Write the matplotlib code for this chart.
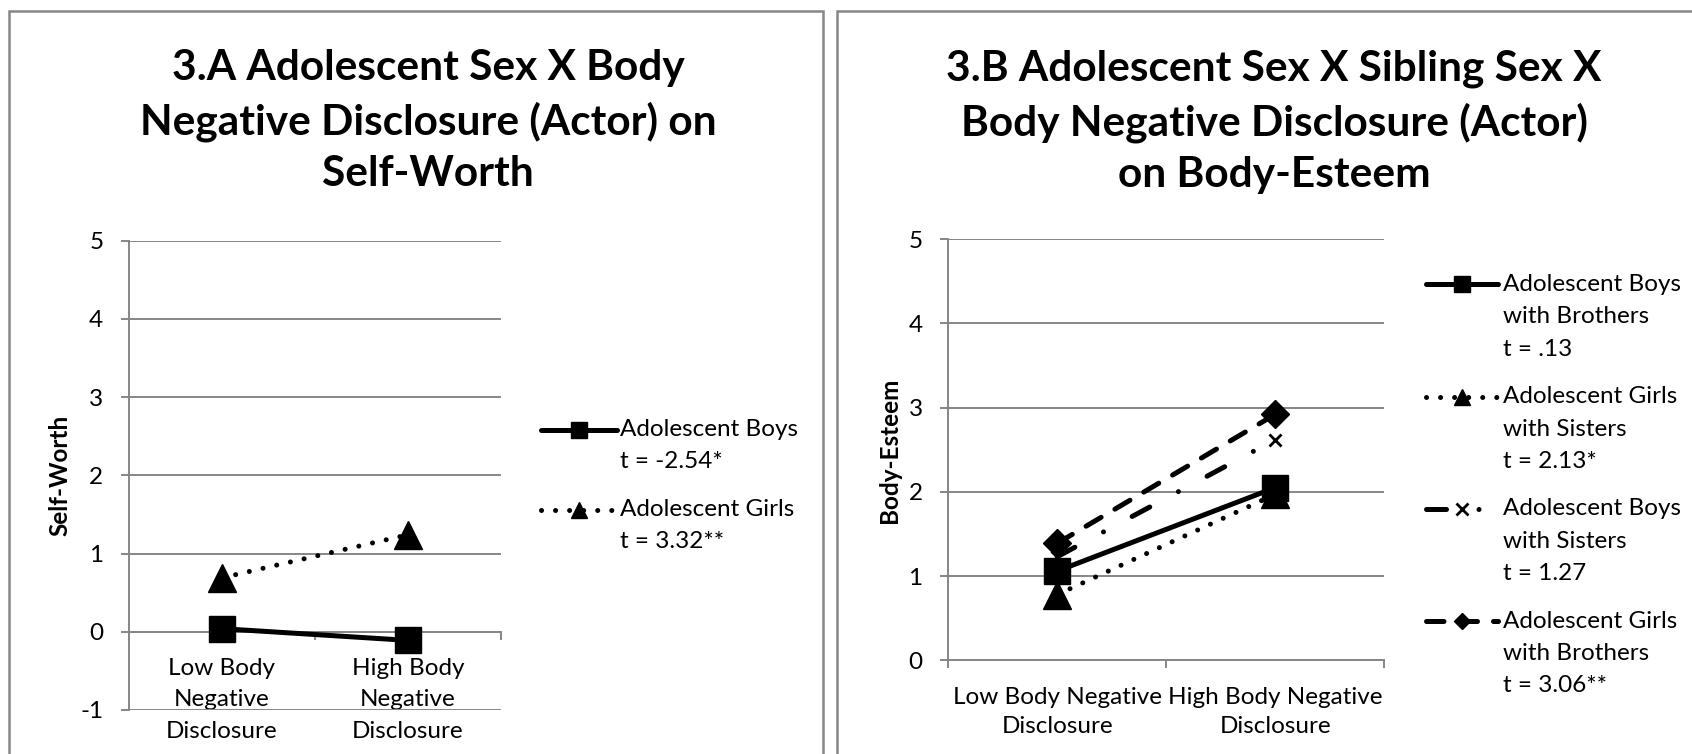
import matplotlib.pyplot as plt
from matplotlib.lines import Line2D
from matplotlib.patches import Rectangle

W, H, DPI = 1692, 754, 100

# ---- data ----
left_title = "3.A Adolescent Sex X Body\nNegative Disclosure (Actor) on\nSelf-Worth"
right_title = "3.B Adolescent Sex X Sibling Sex X\nBody Negative Disclosure (Actor)\non Body-Esteem"

left_categories = ["Low Body\nNegative\nDisclosure", "High Body\nNegative\nDisclosure"]
right_categories = ["Low Body Negative\nDisclosure", "High Body Negative\nDisclosure"]

left_boys = [0.04, -0.11]
left_girls = [0.69, 1.24]

right_boys_brothers = [1.06, 2.05]
right_girls_sisters = [0.78, 1.97]
right_boys_sisters = [1.23, 2.62]
right_girls_brothers = [1.39, 2.92]

left_labels = ["Adolescent Boys\nt = -2.54*", "Adolescent Girls\nt = 3.32**"]
right_labels = ["Adolescent Boys\nwith Brothers\nt = .13",
                "Adolescent Girls\nwith Sisters\nt = 2.13*",
                "Adolescent Boys\nwith Sisters\nt = 1.27",
                "Adolescent Girls\nwith Brothers\nt = 3.06**"]

GRID = "#868686"
FS = 17.5
LW = 3.6

plt.rcParams['font.family'] = ['Lato', 'DejaVu Sans']
plt.rcParams['axes.unicode_minus'] = False

STYLES = {
    "solid_sq": dict(color="black", lw=LW, ls="-", marker="s", ms=19, solid_capstyle="round"),
    "dot_tri": dict(color="black", lw=LW, ls=(0, (0.01, 2.8)), dash_capstyle="round",
                    marker="^", ms=20),
    "dashdot_x": dict(color="black", lw=LW, ls=(0, (4, 6.5, 0.01, 6.5)), dash_capstyle="round",
                      marker="x", ms=9, mew=2),
    "dash_dia": dict(color="black", lw=LW, ls=(0, (3.5, 3.2)), dash_capstyle="round",
                     marker="D", ms=14.5),
}
# smaller markers in the legend samples
LEGEND_MS = {"solid_sq": 11.5, "dot_tri": 11, "dashdot_x": 9, "dash_dia": 8.5}


def fx(px):
    return px / W


def fy(py):
    return 1 - py / H


fig = plt.figure(figsize=(W / DPI, H / DPI), dpi=DPI)

# panel frames
for x0, x1 in [(9, 823), (837, 1705)]:
    fig.patches.append(Rectangle((fx(x0), fy(765)), fx(x1) - fx(x0), fy(11) - fy(765),
                                 transform=fig.transFigure, fill=False, ec="#878787", lw=1.8))


def style_axes(ax, ymin, ymax, cats, label_pad, spacing):
    ax.set_xlim(0.5, 2.5)
    ax.set_ylim(ymin, ymax)
    ax.set_yticks(range(ymin, ymax + 1))
    ax.yaxis.grid(True, color=GRID, lw=1.4)
    ax.set_axisbelow(True)
    ax.spines["top"].set_visible(False)
    ax.spines["right"].set_visible(False)
    ax.spines["left"].set_color(GRID)
    ax.spines["left"].set_linewidth(1.4)
    ax.spines["bottom"].set_color(GRID)
    ax.spines["bottom"].set_linewidth(1.4)
    ax.spines["bottom"].set_position(("data", 0))
    ax.set_xticks([0.5, 1.5, 2.5])
    ax.set_xticklabels([])
    ax.set_xticks([1, 2], minor=True)
    ax.set_xticklabels(cats, minor=True, fontsize=FS, linespacing=spacing)
    ax.tick_params(axis="x", which="major", length=6, width=1.4, color=GRID)
    ax.tick_params(axis="x", which="minor", length=0, pad=label_pad)
    ax.tick_params(axis="y", length=5.5, width=1.4, color=GRID, pad=13, labelsize=FS)


# left chart
ax1 = fig.add_axes([fx(129), fy(710), fx(500.7) - fx(129), fy(240.7) - fy(710)])
style_axes(ax1, -1, 5, left_categories, 19, 1.6)
ax1.plot([1, 2], left_girls, **STYLES["dot_tri"], zorder=3)
ax1.plot([1, 2], left_boys, **STYLES["solid_sq"], zorder=4)

# right chart
ax2 = fig.add_axes([fx(948.3), fy(660.3), fx(1384) - fx(948.3), fy(239.3) - fy(660.3)])
style_axes(ax2, 0, 5, right_categories, 19, 1.5)
ax2.plot([1, 2], right_boys_sisters, **STYLES["dashdot_x"], zorder=3)
ax2.plot([1, 2], right_girls_brothers, **STYLES["dash_dia"], zorder=4)
ax2.plot([1, 2], right_girls_sisters, **STYLES["dot_tri"], zorder=5)
ax2.plot([1, 2], right_boys_brothers, **STYLES["solid_sq"], zorder=6)

# axis titles
fig.text(fx(60), fy(475), "Self-Worth", rotation=90, ha="center", va="center",
         fontsize=FS, fontweight="bold")
fig.text(fx(889), fy(450), "Body-Esteem", rotation=90, ha="center", va="center",
         fontsize=FS, fontweight="bold")

# chart titles
fig.text(fx(428), fy(121), left_title, ha="center", va="center", fontsize=30.5,
         fontweight="bold", linespacing=1.42)
fig.text(fx(1274), fy(122), right_title, ha="center", va="center", fontsize=30.5,
         fontweight="bold", linespacing=1.42)


def legend(entries, styles, x0, x1, tx, y_first, entry_gap, line_gap):
    for i, (label, key) in enumerate(zip(entries, styles)):
        y = y_first + i * entry_gap
        st = dict(STYLES[key])
        st["ms"] = LEGEND_MS[key]
        ln = Line2D([fx(x0), fx((x0 + x1) / 2), fx(x1)], [fy(y)] * 3,
                    transform=fig.transFigure, markevery=[1], **st)
        fig.add_artist(ln)
        for j, line in enumerate(label.split("\n")):
            fig.text(fx(tx), fy(y + j * line_gap), line, ha="left", va="center", fontsize=FS)


legend(left_labels, ["solid_sq", "dot_tri"], 541, 617, 620, 430, 80, 31.5)
legend(right_labels, ["solid_sq", "dot_tri", "dashdot_x", "dash_dia"],
       1426, 1498, 1503, 284.3, 112.3, 32.4)

fig.savefig("out.png", dpi=DPI)
